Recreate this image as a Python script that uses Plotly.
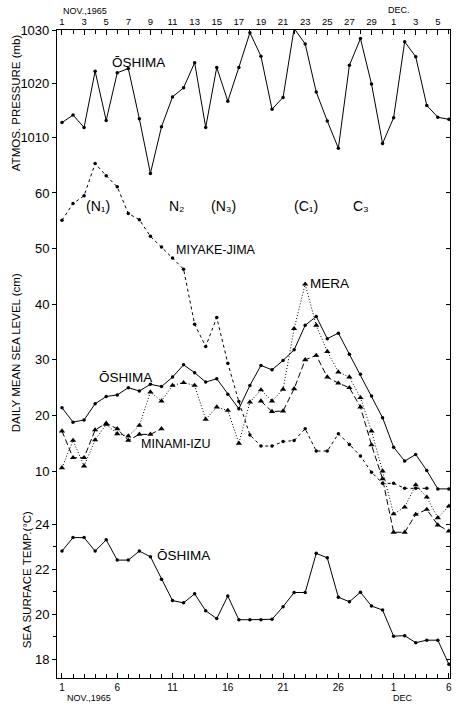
import plotly.graph_objects as go

# ---------------- data ----------------
days = list(range(1, 37))  # Nov 1 ... Dec 6, 1965

pressure_oshima = [1012.7, 1014.1, 1011.8, 1022.3, 1013.1, 1022.0, 1022.8, 1013.4, 1003.2, 1011.9,
                   1017.5, 1019.2, 1023.9, 1011.8, 1023.0, 1016.7, 1023.0, 1029.5, 1025.1, 1015.2,
                   1017.4, 1030.3, 1027.4, 1018.4, 1013.0, 1007.9, 1023.4, 1028.4, 1019.9, 1008.8,
                   1013.6, 1027.8, 1025.0, 1015.9, 1013.7, 1013.3]

sl_miyakejima = [55.1, 58.1, 59.5, 65.3, 63.1, 61.1, 56.3, 55.2, 52.2, 50.3,
                 48.3, 46.3, 36.4, 32.4, 37.6, 29.4, 22.5, 16.5, 14.5, 14.5,
                 15.3, 15.5, 17.6, 13.6, 13.6, 16.7, 14.8, 12.7, 9.8, 7.8,
                 7.8, 6.9, 6.9, 6.9, None, None]

sl_oshima = [21.4, 18.8, 19.2, 22.1, 23.4, 23.7, 25.0, 24.4, 25.6, 25.2,
             26.9, 29.1, 27.7, 26.0, 26.6, 23.8, 21.2, 25.4, 29.0, 28.2,
             29.9, 31.8, 36.2, 37.8, 33.8, 34.8, 31.0, 27.4, 23.5, 19.6,
             14.3, 11.8, 13.0, 10.1, 6.8, 6.8]

sl_mera = [10.6, 15.5, 10.9, 15.6, 18.4, 16.7, 16.3, 18.2, 24.2, 22.6,
           25.4, 25.9, 25.4, 19.3, 21.5, 20.9, 15.0, 22.4, 24.6, 22.6,
           24.7, 35.6, 43.6, 36.2, 31.5, 27.8, 26.9, 23.2, 17.2, 10.0,
           2.3, 3.5, 7.5, 5.3, 1.6, 3.7]

sl_minamiizu = [17.2, 12.4, 12.4, 17.4, 18.6, 17.6, 15.5, 16.6, 16.6, 17.6,
                None, None, None, None, None, None, None, None, 22.6, 20.7,
                20.8, 24.8, 30.0, 30.8, 26.9, 25.8, 25.0, 21.5, 14.7, 8.6,
                -1.0, -1.0, 2.2, 3.1, 0.3, -0.8]

sst_oshima = [22.8, 23.4, 23.4, 22.8, 23.3, 22.4, 22.4, 22.8, 22.55, 21.55,
              20.6, 20.5, 20.9, 20.15, 19.8, 20.8, 19.75, 19.75, 19.75, 19.77,
              20.33, 20.96, 20.96, 22.7, 22.5, 20.75, 20.55, 20.97, 20.36, 20.18,
              19.02, 19.04, 18.73, 18.84, 18.84, 17.77]

bottom_tick_days = [1, 6, 11, 16, 21, 26, 31, 36]
bottom_tick_text = ["1", "6", "11", "16", "21", "26", "1", "6"]
top_tick_days = list(range(1, 36, 2))
top_tick_text = [str(d) for d in range(1, 30, 2)] + ["1", "3", "5"]

pressure_ticks = [1010, 1020, 1030]
sealevel_ticks = [10, 20, 30, 40, 50, 60]
sst_ticks = [18, 20, 22, 24]
sst_minor = [19, 21, 23]
sst_right_ticks = [18, 19, 20, 21, 22, 23, 24]

# ---------------- layout geometry (pixels) ----------------
W, H = 457, 704
L, R, T, B = 57, 452, 30, 678

def paper(xp, yp):
    return (xp - L) / (R - L), (B - yp) / (B - T)

FONT = "Liberation Sans"
BLK = "black"

fig = go.Figure()

dot = dict(symbol="circle", size=3.5, color=BLK)
tri = dict(symbol="triangle-up", size=5.5, color=BLK)

fig.add_trace(go.Scatter(x=days, y=pressure_oshima, yaxis="y", mode="lines+markers",
                         line=dict(color=BLK, width=1), marker=dot))
fig.add_trace(go.Scatter(x=days, y=sl_miyakejima, yaxis="y2", mode="lines+markers",
                         line=dict(color=BLK, width=1, dash="3px,3px"), marker=dot))
fig.add_trace(go.Scatter(x=days, y=sl_oshima, yaxis="y2", mode="lines+markers",
                         line=dict(color=BLK, width=1), marker=dot))
fig.add_trace(go.Scatter(x=days, y=sl_mera, yaxis="y2", mode="lines+markers",
                         line=dict(color=BLK, width=1, dash="1px,2px"), marker=tri))
fig.add_trace(go.Scatter(x=days, y=sl_minamiizu, yaxis="y2", mode="lines+markers",
                         line=dict(color=BLK, width=1, dash="6px,3px"), marker=tri))
fig.add_trace(go.Scatter(x=days, y=sst_oshima, yaxis="y3", mode="lines+markers",
                         line=dict(color=BLK, width=1), marker=dot))
# dummy traces so auxiliary axes are drawn
for xa, ya in [("x2", "y"), ("x", "y4"), ("x", "y5"), ("x", "y6")]:
    fig.add_trace(go.Scatter(x=[None], y=[None], xaxis=xa, yaxis=ya, mode="markers",
                             hoverinfo="skip"))

xrange = [0.55, 36.1]
p_range = [908.9, 1030.0]
s_range = [-27.2, 89.3]
t_range = [17.16, 45.96]

common_ax = dict(showgrid=False, zeroline=False, color=BLK, tickcolor=BLK,
                 linecolor=BLK, linewidth=1.2, tickwidth=1)

fig.update_layout(
    width=W, height=H, showlegend=False,
    paper_bgcolor="white", plot_bgcolor="white",
    margin=dict(l=L, r=W - R, t=T, b=H - B, pad=0),
    font=dict(family=FONT, color=BLK),
    xaxis=dict(range=xrange, tickmode="array", tickvals=bottom_tick_days, ticktext=bottom_tick_text,
               ticks="inside", ticklen=5, showline=True, anchor="y",
               tickfont=dict(size=10, family=FONT),
               minor=dict(tickvals=days, ticks="inside", ticklen=4, tickcolor=BLK), **common_ax),
    xaxis2=dict(range=xrange, overlaying="x", side="top", anchor="y", tickmode="array",
                tickvals=top_tick_days, ticktext=top_tick_text, ticks="inside", ticklen=5,
                showline=True, tickfont=dict(size=9.5, family=FONT),
                minor=dict(tickvals=days, ticks="inside", ticklen=4, tickcolor=BLK), **common_ax),
    yaxis=dict(range=p_range, tickmode="array", tickvals=pressure_ticks, ticks="outside", ticklen=4,
               showline=True, anchor="x", tickfont=dict(size=13, family=FONT), **common_ax),
    yaxis2=dict(range=s_range, overlaying="y", side="left", anchor="x", tickmode="array",
                tickvals=sealevel_ticks, ticks="outside", ticklen=4, showline=False,
                tickfont=dict(size=13, family=FONT), **common_ax),
    yaxis3=dict(range=t_range, overlaying="y", side="left", anchor="x", tickmode="array",
                tickvals=sst_ticks, ticks="outside", ticklen=4, showline=False,
                tickfont=dict(size=13, family=FONT),
                minor=dict(tickvals=sst_minor, ticks="outside", ticklen=3, tickcolor=BLK), **common_ax),
    yaxis4=dict(range=p_range, overlaying="y", side="right", anchor="x", tickmode="array",
                tickvals=pressure_ticks[:2], ticks="inside", ticklen=4, showline=True,
                showticklabels=False, **common_ax),
    yaxis5=dict(range=s_range, overlaying="y", side="right", anchor="x", tickmode="array",
                tickvals=sealevel_ticks, ticks="inside", ticklen=4, showline=False,
                showticklabels=False, **common_ax),
    yaxis6=dict(range=t_range, overlaying="y", side="right", anchor="x", tickmode="array",
                tickvals=sst_right_ticks, ticks="inside", ticklen=4, showline=False,
                showticklabels=False, **common_ax),
)

def note(text, xp, yp, size=13, anchor="center", angle=0, family=FONT):
    px_, py_ = paper(xp, yp)
    fig.add_annotation(text=text, x=px_, y=py_, xref="paper", yref="paper",
                       xanchor=anchor, yanchor="middle", showarrow=False, textangle=angle,
                       font=dict(size=size, family=family, color=BLK))

# date headers
note("NOV.,1965", 85, 11, size=9)
note("DEC.", 401, 10, size=9)
note("NOV.,1965", 89, 698, size=9)
note("DEC", 405, 698, size=9)

# axis titles
note("ATMOS. PRESSURE (mb)", 16, 103, size=11.5, angle=-90)
note("DAILY MEAN SEA LEVEL (cm)", 16, 353, size=11.5, angle=-90)
note("SEA SURFACE TEMP.(°C)", 27, 580, size=11.5, angle=-90)

# series labels
note("ŌSHIMA", 110, 62, size=13.5, anchor="left")
note("MIYAKE-JIMA", 175, 250, size=12.5, anchor="left")
note("MERA", 309, 283, size=13.5, anchor="left")
note("ŌSHIMA", 97, 378, size=13.5, anchor="left")
note("MINAMI-IZU", 139, 444, size=12.5, anchor="left")
note("ŌSHIMA", 155, 555, size=13.5, anchor="left")

# weather-type labels
note("(N₁)", 98, 206, size=14)
note("N₂", 178, 206, size=14)
note("(N₃)", 224, 206, size=14)
note("(C₁)", 307, 206, size=14)
note("C₃", 363, 206, size=14)

fig.write_html("out.html")
